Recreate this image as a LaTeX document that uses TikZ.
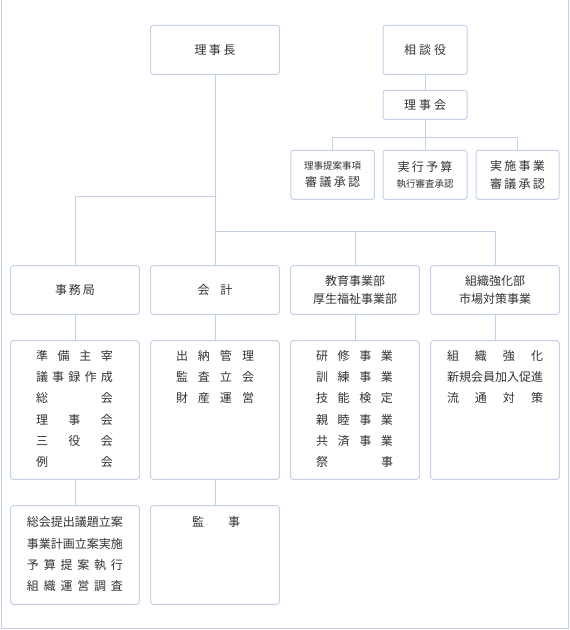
\documentclass[tikz,border=0pt]{standalone}
\usepackage{fontspec}
\newfontfamily\jpfont{Noto Sans CJK JP}
\definecolor{linec}{RGB}{197,208,230}
\definecolor{textc}{RGB}{51,51,51}
\newcommand{\spr}[2]{\makebox[#1][s]{#2}}

\begin{document}
\begin{tikzpicture}[x=1pt,y=-1pt,
  box/.style={draw=linec, line width=1pt, rounded corners=2.5pt, fill=white, inner sep=0pt},
  lbl/.style={text=textc, font=\jpfont\fontsize{12}{18}\selectfont, align=center},
  lst/.style={text=textc, font=\jpfont\fontsize{12}{21.3}\selectfont, align=center, inner sep=0pt, anchor=north},
  con/.style={draw=linec, line width=1pt}]
  \useasboundingbox (0,0) rectangle (570,630);
  \draw[con] (1,0) -- (1,628.5) -- (568.5,628.5) -- (568.5,0);

  % top
  \node[box, lbl, minimum width=128.6, minimum height=49] (rijicho) at (215,49.8) {\spr{41pt}{理 事 長}};
  \node[box, lbl, minimum width=84, minimum height=49] (sodan) at (425,49.8) {\spr{42pt}{相 談 役}};
  \node[box, lbl, minimum width=84, minimum height=29] (rijikai) at (425,104.8) {\spr{42pt}{理 事 会}};

  \node[box, lbl, minimum width=83.5, minimum height=49] (teian) at (332.7,174.8)
    {{\fontsize{9.5}{18}\selectfont 理事提案事項}\\[-1.3pt]\spr{55pt}{審 議 承 認}};
  \node[box, lbl, minimum width=84, minimum height=49] (jikko) at (425,174.8)
    {\spr{55pt}{実 行 予 算}\\[-1.7pt]{\fontsize{9.5}{18}\selectfont 執行審査承認}};
  \node[box, lbl, minimum width=83, minimum height=49] (jisshi) at (517.5,174.8)
    {\spr{55pt}{実 施 事 業}\\[-0.3pt]\spr{55pt}{審 議 承 認}};

  % second row
  \node[box, lbl, minimum width=128.6, minimum height=48.6] (jimu) at (75,290) {\spr{40pt}{事 務 局}};
  \node[box, lbl, minimum width=128.6, minimum height=48.6] (kaikei) at (215,290) {\spr{35pt}{会 計}};
  \node[box, lbl, minimum width=128.6, minimum height=48.6] (kyoiku) at (355,290) {教育事業部\\厚生福祉事業部};
  \node[box, lbl, minimum width=128.6, minimum height=48.6] (soshiki) at (495,290) {組織強化部\\市場対策事業};

  % third row
  \node[box, minimum width=128.6, minimum height=138.6] (jimuwork) at (75,410) {};
  \node[box, minimum width=128.6, minimum height=138.6] (kaikeiwork) at (215,410) {};
  \node[box, minimum width=128.6, minimum height=138.6] (kyoikuwork) at (355,410) {};
  \node[box, minimum width=128.6, minimum height=138.6] (soshikiwork) at (495,410) {};

  \node[lst] (jimuworktxt) at (74.5,350) {\spr{77pt}{準 備 主 宰}\\\spr{77pt}{議 事 録 作 成}\\\spr{77pt}{総 会}\\
    \spr{77pt}{理 事 会}\\\spr{77pt}{三 役 会}\\\spr{77pt}{例 会}};
  \node[lst] (kaikeiworktxt) at (215,350) {\spr{78pt}{出 納 管 理}\\\spr{78pt}{監 査 立 会}\\\spr{78pt}{財 産 運 営}};
  \node[lst] (kyoikuworktxt) at (354.5,350) {\spr{77pt}{研 修 事 業}\\\spr{77pt}{訓 練 事 業}\\\spr{77pt}{技 能 検 定}\\
    \spr{77pt}{親 睦 事 業}\\\spr{77pt}{共 済 事 業}\\\spr{77pt}{祭 事}};
  \node[lst] (soshikiworktxt) at (495,350) {\spr{96pt}{組 織 強 化}\\新規会員加入促進\\\spr{96pt}{流 通 対 策}};

  % fourth row
  \node[box, minimum width=128.6, minimum height=98.6] (jimusub) at (75,555) {};
  \node[box, minimum width=128.6, minimum height=98.6] (kanji) at (215,555) {};

  \node[lst] (jimusubtxt) at (75,516.5) {総会提出議題立案\\事業計画立案実施\\\spr{96pt}{予 算 提 案 執 行}\\\spr{96pt}{組 織 運 営 調 査}};
  \node[lst] (kanjitxt) at (216,516.5) {\spr{48pt}{監 事}};

  % connectors
  \coordinate (busL) at (215,196);
  \coordinate (busR) at (215,231);
  \coordinate (busT) at (425,137);
  \draw[con] (rijicho) -- (kaikei);
  \draw[con] (busL) -| (jimu);
  \draw[con] (busR) -| (kyoiku);
  \draw[con] (busR) -| (soshiki);
  \draw[con] (sodan) -- (rijikai);
  \draw[con] (rijikai) -- (jikko);
  \draw[con] (busT) -| (teian);
  \draw[con] (busT) -| (jisshi);

  \draw[con] (jimu) -- (jimuwork);
  \draw[con] (kaikei) -- (kaikeiwork);
  \draw[con] (kyoiku) -- (kyoikuwork);
  \draw[con] (soshiki) -- (soshikiwork);
  \draw[con] (jimuwork) -- (jimusub);
  \draw[con] (kaikeiwork) -- (kanji);
\end{tikzpicture}
\end{document}
